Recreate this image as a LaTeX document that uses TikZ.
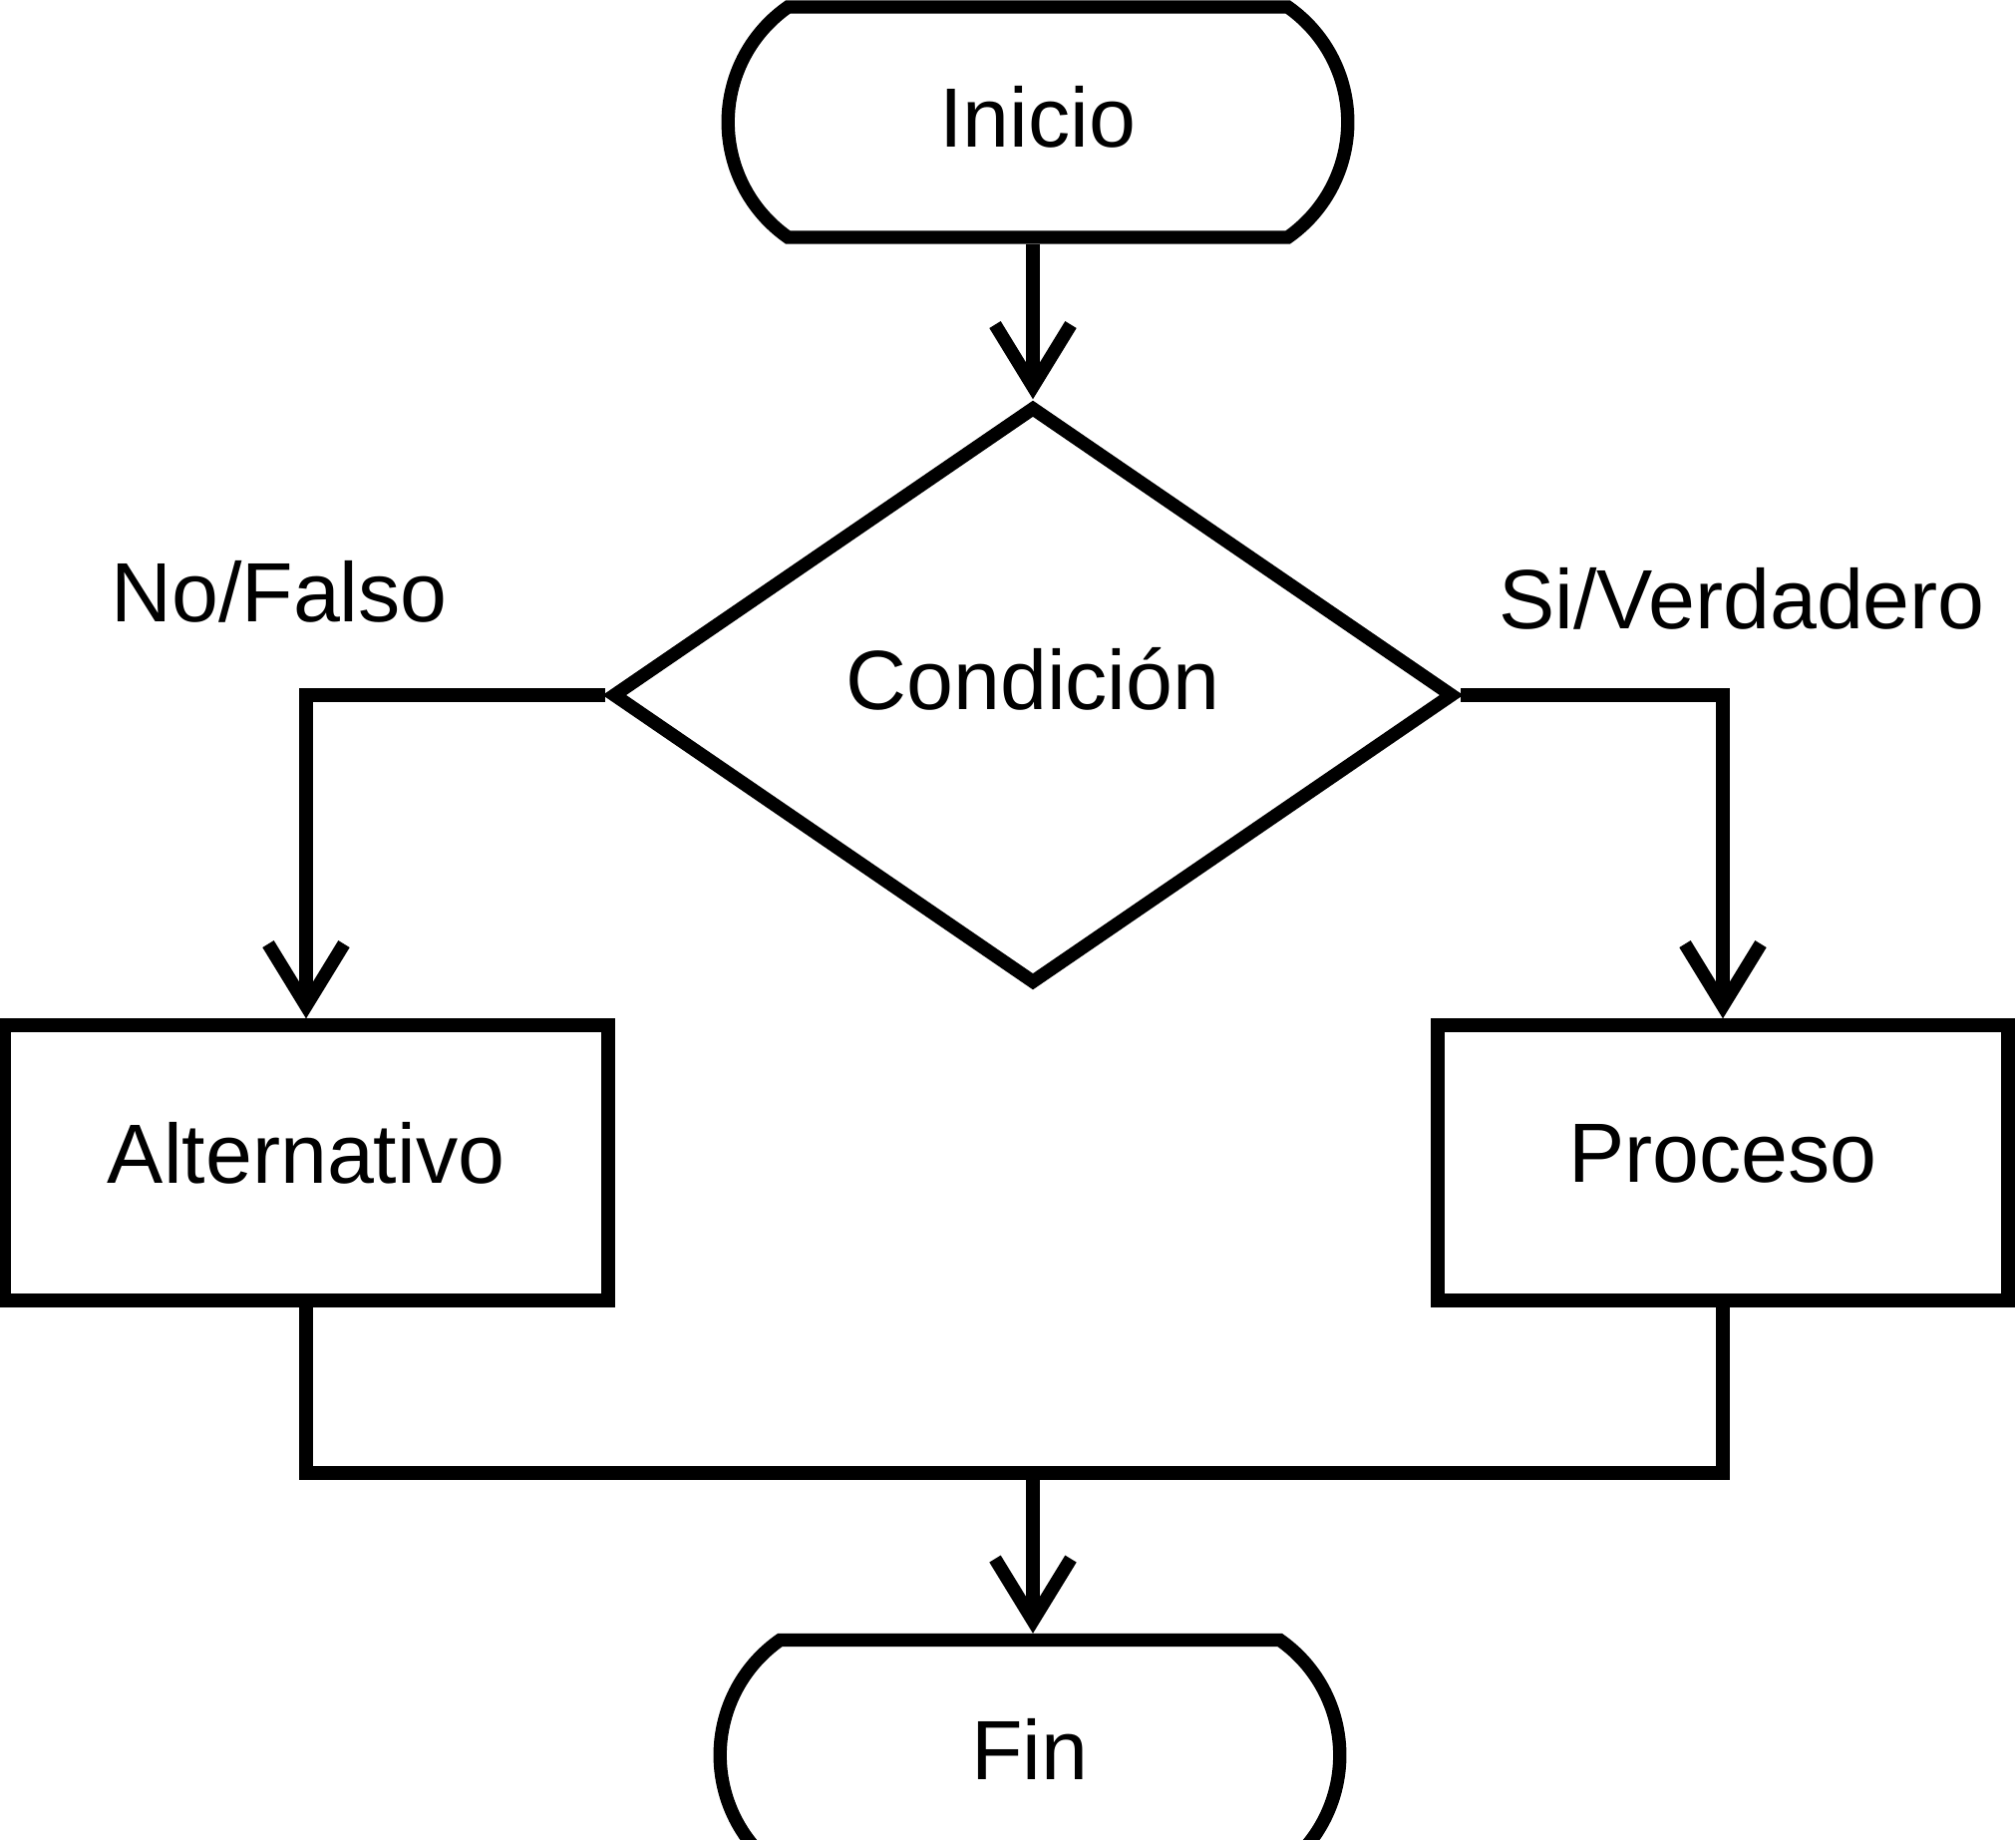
\documentclass[tikz,border=0pt]{standalone}
\usepackage{fontspec}
\setmainfont{Liberation Sans}
\usepackage{tikz}
\usetikzlibrary{arrows.meta}
\usetikzlibrary{shapes.geometric}
\usetikzlibrary{shapes.misc}

\begin{document}
\begin{tikzpicture}[
  line width=3.8pt,
  every node/.style={font=\fontsize{24}{29}\selectfont},
  terminal/.style={draw, rounded rectangle, rounded rectangle arc length=110, minimum width=6.45cm, minimum height=2.31cm, text depth=0.12cm},
  caja/.style={draw, rectangle, minimum height=2.76cm, text depth=0.2cm},
  decision/.style={draw, diamond, minimum width=8.45cm, minimum height=5.8cm, inner sep=0pt, text depth=0.34cm},
  flecha/.style={-{Straight Barb[length=0.62cm, width=0.76cm]}}
]

\useasboundingbox (0,0) rectangle (20.22,-18.45);

%================ NODES ==================
\node[terminal] (inicio) at (10.41,-1.225) {Inicio};
\node[decision] (cond) at (10.36,-6.97) {Condici\'on};
\node[caja, minimum width=6.06cm] (alt) at (3.07,-11.66) {Alternativo};
\node[caja, minimum width=5.72cm] (proc) at (17.28,-11.66) {Proceso};
\node[terminal] (fin) at (10.33,-17.6) {Fin};

\coordinate (junta) at (10.36,-14.77);

%================ LABELS ==================
\node (nofalso) at (2.8,-5.93) {No/Falso};
\node (siverd) at (17.47,-6.0) {Si/Verdadero};

%================ ARROWS ==================
\draw[flecha] (inicio.south -| cond) -- (cond);
\draw[flecha] (cond.west) -| (alt.north);
\draw[flecha] (cond.east) -| (proc.north);
\draw (alt.south) |- (junta) -| (proc.south);
\draw[flecha] (junta) -- (fin.north -| junta);

\end{tikzpicture}
\end{document}
